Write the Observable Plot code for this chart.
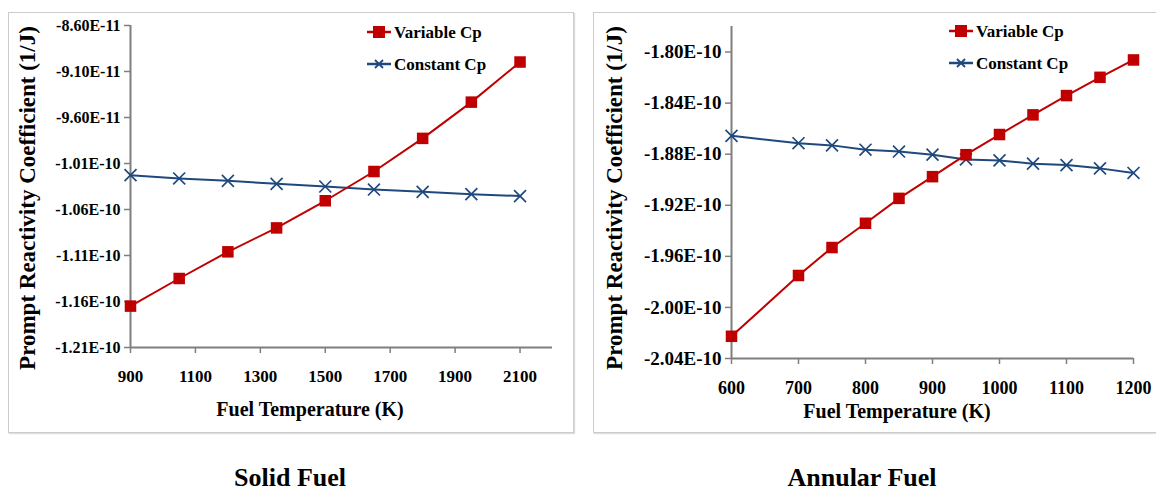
<!DOCTYPE html>
<html><head><meta charset="utf-8">
<script src="https://cdn.jsdelivr.net/npm/d3@7"></script>
<script src="https://cdn.jsdelivr.net/npm/@observablehq/plot@0.6"></script>
<style>
body{margin:0;width:1156px;height:492px;overflow:hidden;background:#fff;position:relative;font-family:"Liberation Serif","Times New Roman",serif;}
.panel{position:absolute;border:1px solid #cccccc;box-shadow:1px 1px 1px #dddddd;background:#fff;box-sizing:border-box;}
.panel > svg{position:absolute;left:0;top:0;}
.panel > svg, .panel > svg text{font-family:"Liberation Serif","Times New Roman",serif !important;font-weight:bold;}
.txt{position:absolute;font-weight:bold;color:#000;white-space:nowrap;line-height:1;}
.xtitle{font-size:20px;transform:translate(-50%,-50%);}
.ytitle{font-size:23px;transform:translate(-50%,-50%) rotate(-90deg);}
.caption{font-size:26px;transform:translate(-50%,-50%);}
.leg{position:absolute;font-weight:bold;font-size:17px;line-height:1;white-space:nowrap;}
.leg .row{display:flex;align-items:center;height:20px;}
.leg .sw{margin-right:3px;display:block;}
</style>
</head><body>
<div id="solidPanel" class="panel" style="left:8px;top:12px;width:566px;height:421px;"></div>
<div id="annularPanel" class="panel" style="left:593px;top:12px;width:575px;height:421px;"></div>
<script>
// ---- Data ----
const seriesNames = ["Variable Cp", "Constant Cp"];
const solidTemps = [900, 1050, 1200, 1350, 1500, 1650, 1800, 1950, 2100];
const solidVariable = [-1.165e-10, -1.135e-10, -1.106e-10, -1.080e-10, -1.0505e-10, -1.0187e-10, -0.9827e-10, -0.9433e-10, -0.8997e-10];
const solidConstant = [-1.0227e-10, -1.0263e-10, -1.0288e-10, -1.0321e-10, -1.0350e-10, -1.0383e-10, -1.0408e-10, -1.0433e-10, -1.0454e-10];
const annularTemps = [600, 700, 750, 800, 850, 900, 950, 1000, 1050, 1100, 1150, 1200];
const annularVariable = [-2.0226e-10, -1.9750e-10, -1.9531e-10, -1.9341e-10, -1.9146e-10, -1.8976e-10, -1.8804e-10, -1.8646e-10, -1.8492e-10, -1.8341e-10, -1.8198e-10, -1.8062e-10];
const annularConstant = [-1.8656e-10, -1.8714e-10, -1.8731e-10, -1.8765e-10, -1.8779e-10, -1.8804e-10, -1.8841e-10, -1.8849e-10, -1.8874e-10, -1.8885e-10, -1.8911e-10, -1.8947e-10];
const solidXTicks = [900, 1100, 1300, 1500, 1700, 1900, 2100];
const solidYTicks = [-8.6e-11, -9.1e-11, -9.6e-11, -1.01e-10, -1.06e-10, -1.11e-10, -1.16e-10, -1.21e-10];
const annularXTicks = [600, 700, 800, 900, 1000, 1100, 1200];
const annularYTicks = [-1.80e-10, -1.84e-10, -1.88e-10, -1.92e-10, -1.96e-10, -2.00e-10, -2.04e-10];
const xTitle = "Fuel Temperature (K)";
const yTitle = "Prompt Reactivity Coefficient (1/J)";
const captions = ["Solid Fuel", "Annular Fuel"];

const RED = "#c00000", BLUE = "#1f497d", AXIS = "#7f7f7f";
const SERIF = "Liberation Serif, Times New Roman, serif";
const fmtY = d => d.toExponential(2).toUpperCase();

function makeChart(cfg) {
  const varData = cfg.temps.map((t, i) => ({t, v: cfg.variable[i]}));
  const conData = cfg.temps.map((t, i) => ({t, v: cfg.constant[i]}));
  return Plot.plot({
    width: cfg.width, height: cfg.height,
    marginLeft: cfg.ml, marginRight: cfg.mr, marginTop: cfg.mt, marginBottom: cfg.mb,
    style: {fontFamily: SERIF, fontWeight: "bold", color: "#000", background: "transparent"},
    x: {domain: cfg.xDomain},
    y: {domain: cfg.yDomain},
    marks: [
      Plot.axisX({ticks: cfg.xTicks, tickFormat: d => String(d), tickSize: 6, tickPadding: cfg.xPad, stroke: AXIS, strokeWidth: 1.5, fill: "#000", fontSize: cfg.xFont, fontFamily: SERIF, fontWeight: "bold", label: null}),
      Plot.axisY({ticks: cfg.yTicks, tickFormat: fmtY, tickSize: 6, tickPadding: 4, stroke: AXIS, strokeWidth: 1.5, fill: "#000", fontSize: cfg.yFont, fontFamily: SERIF, fontWeight: "bold", label: null}),
      Plot.ruleX([cfg.xDomain[0]], {stroke: AXIS, strokeWidth: 2}),
      Plot.ruleY([cfg.yDomain[0]], {stroke: AXIS, strokeWidth: 2}),
      Plot.line(conData, {x: "t", y: "v", stroke: BLUE, strokeWidth: 2}),
      Plot.dot(conData, {x: "t", y: "v", symbol: "times", r: 5.5, stroke: BLUE, strokeWidth: 1.7}),
      Plot.line(varData, {x: "t", y: "v", stroke: RED, strokeWidth: 2}),
      Plot.dot(varData, {x: "t", y: "v", symbol: "square", r: 6.5, fill: RED, stroke: "none"})
    ]
  });
}

function swatch(kind) {
  const col = kind === 0 ? RED : BLUE;
  const mark = kind === 0
    ? `<rect x="6" y="4" width="12" height="12" fill="${col}"/>`
    : `<path d="M8 6 L16 14 M16 6 L8 14" stroke="${col}" stroke-width="1.8"/>`;
  return `<svg class="sw" width="24" height="20"><line x1="0" y1="10" x2="24" y2="10" stroke="${col}" stroke-width="2.5"/>${mark}</svg>`;
}

function addText(parent, cls, text, x, y) {
  const d = document.createElement("div");
  d.className = "txt " + cls;
  d.textContent = text;
  d.style.left = x + "px"; d.style.top = y + "px";
  parent.appendChild(d);
}

function addLegend(parent, x, y) {
  const l = document.createElement("div");
  l.className = "leg";
  l.style.left = x + "px"; l.style.top = y + "px";
  l.innerHTML = seriesNames.map((n, i) => `<div class="row" style="margin-bottom:${i === 0 ? 12 : 0}px">${swatch(i)}<span>${n}</span></div>`).join("");
  parent.appendChild(l);
}

const solidPanel = document.getElementById("solidPanel");
solidPanel.appendChild(makeChart({
  temps: solidTemps, variable: solidVariable, constant: solidConstant,
  width: 564, height: 419, ml: 121, mr: 21, mt: 12, mb: 85,
  xDomain: [900, 2200], yDomain: [-1.21e-10, -8.6e-11],
  xTicks: solidXTicks, yTicks: solidYTicks, xFont: 17, yFont: 16, xPad: 16
}));
addText(solidPanel, "xtitle", xTitle, 301, 396);
addText(solidPanel, "ytitle", yTitle, 18, 185);
addLegend(solidPanel, 358, 9);

const annularPanel = document.getElementById("annularPanel");
annularPanel.appendChild(makeChart({
  temps: annularTemps, variable: annularVariable, constant: annularConstant,
  width: 573, height: 419, ml: 137, mr: 34, mt: 13, mb: 74,
  xDomain: [600, 1200], yDomain: [-2.04e-10, -1.78e-10],
  xTicks: annularXTicks, yTicks: annularYTicks, xFont: 18, yFont: 19, xPad: 17
}));
addText(annularPanel, "xtitle", xTitle, 303, 398);
addText(annularPanel, "ytitle", yTitle, 20, 185);
addLegend(annularPanel, 355, 8);

addText(document.body, "caption", captions[0], 290, 478);
addText(document.body, "caption", captions[1], 862, 478);
</script>
</body></html>
